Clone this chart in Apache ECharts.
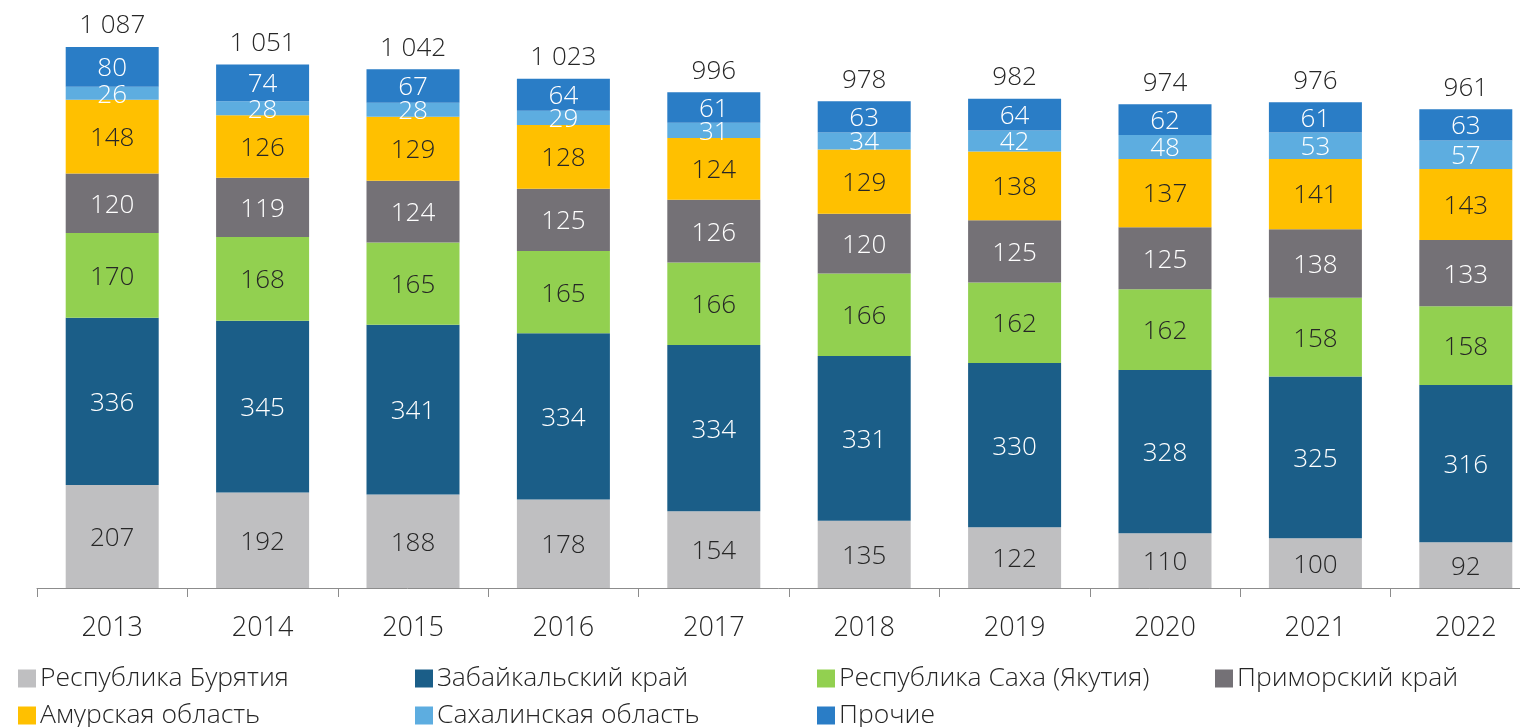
<!DOCTYPE html>
<html>
<head>
<meta charset="utf-8">
<script src="https://cdn.jsdelivr.net/npm/echarts@6/dist/echarts.min.js"></script>
<style>
  html, body { margin: 0; padding: 0; background: #fff; }
  #main { width: 1520px; height: 727px; }
</style>
</head>
<body>
<div id="main"></div>
<script>
var years = ['2013', '2014', '2015', '2016', '2017', '2018', '2019', '2020', '2021', '2022'];

var buryatia  = [207, 192, 188, 178, 154, 135, 122, 110, 100, 92];
var zabaikal  = [336, 345, 341, 334, 334, 331, 330, 328, 325, 316];
var yakutia   = [170, 168, 165, 165, 166, 166, 162, 162, 158, 158];
var primorye  = [120, 119, 124, 125, 126, 120, 125, 125, 138, 133];
var amur      = [148, 126, 129, 128, 124, 129, 138, 137, 141, 143];
var sakhalin  = [26, 28, 28, 29, 31, 34, 42, 48, 53, 57];
var others    = [80, 74, 67, 64, 61, 63, 64, 62, 61, 63];
var totals    = [1087, 1051, 1042, 1023, 996, 978, 982, 974, 976, 961];

var font = '"Open Sans", "Noto Sans", sans-serif';

// серии: имя, данные, цвет, цвет подписи
var seriesDefs = [
  ['Республика Бурятия', buryatia, '#bfbfc1', '#262626'],
  ['Забайкальский край', zabaikal, '#1b5e88', '#ffffff'],
  ['Республика Саха (Якутия)', yakutia, '#92d050', '#262626'],
  ['Приморский край', primorye, '#747176', '#ffffff'],
  ['Амурская область', amur, '#ffc000', '#262626'],
  ['Сахалинская область', sakhalin, '#5dade0', '#ffffff'],
  ['Прочие', others, '#2a7dc6', '#ffffff']
];

var series = seriesDefs.map(function (d) {
  return {
    name: d[0],
    type: 'bar',
    stack: 'all',
    barWidth: 93,
    data: d[1],
    itemStyle: { color: d[2] },
    label: {
      show: true,
      position: 'inside',
      offset: [0, 2],
      color: d[3],
      fontFamily: font,
      fontWeight: 300,
      fontSize: 26
    }
  };
});

// итоги над столбцами
series.push({
  name: 'Итого',
  type: 'bar',
  stack: 'all',
  barWidth: 93,
  data: years.map(function () { return 0; }),
  itemStyle: { color: 'transparent' },
  label: {
    show: true,
    position: 'top',
    distance: 8,
    color: '#262626',
    fontFamily: font,
    fontWeight: 300,
    fontSize: 26,
    formatter: function (p) {
      return String(totals[p.dataIndex]).replace(/\B(?=(\d{3})+(?!\d))/g, ' ');
    }
  }
});

// легенда: по одному элементу, чтобы задать колонки
var legendPos = [
  [18, 665], [415, 665], [817, 665], [1215, 665],
  [18, 702], [415, 702], [817, 702]
];
var legends = seriesDefs.map(function (d, i) {
  return {
    data: [d[0]],
    left: legendPos[i][0],
    top: legendPos[i][1],
    padding: 0,
    itemWidth: 18,
    itemHeight: 18,
    itemGap: 0,
    icon: 'rect',
    selectedMode: false,
    textStyle: { fontFamily: font, fontWeight: 300, fontSize: 26.5, color: '#262626', padding: [0, 0, 0, -1] }
  };
});

var myChart = echarts.init(document.getElementById('main'));

var option = {
  animation: false,
  backgroundColor: '#ffffff',
  grid: {
    left: 37,
    right: -21,
    top: 40.5,
    bottom: 139,
    outerBoundsMode: 'none'
  },
  legend: legends,
  xAxis: {
    type: 'category',
    data: years,
    axisLine: { lineStyle: { color: '#8c8c8c', width: 1 } },
    axisTick: { show: true, length: 9, lineStyle: { color: '#8c8c8c' } },
    axisLabel: { fontFamily: font, fontWeight: 300, fontSize: 27, color: '#262626', margin: 27 }
  },
  yAxis: {
    type: 'value',
    min: 0,
    max: 1100,
    show: false,
    splitLine: { show: false }
  },
  series: series
};

myChart.setOption(option);
</script>
</body>
</html>
